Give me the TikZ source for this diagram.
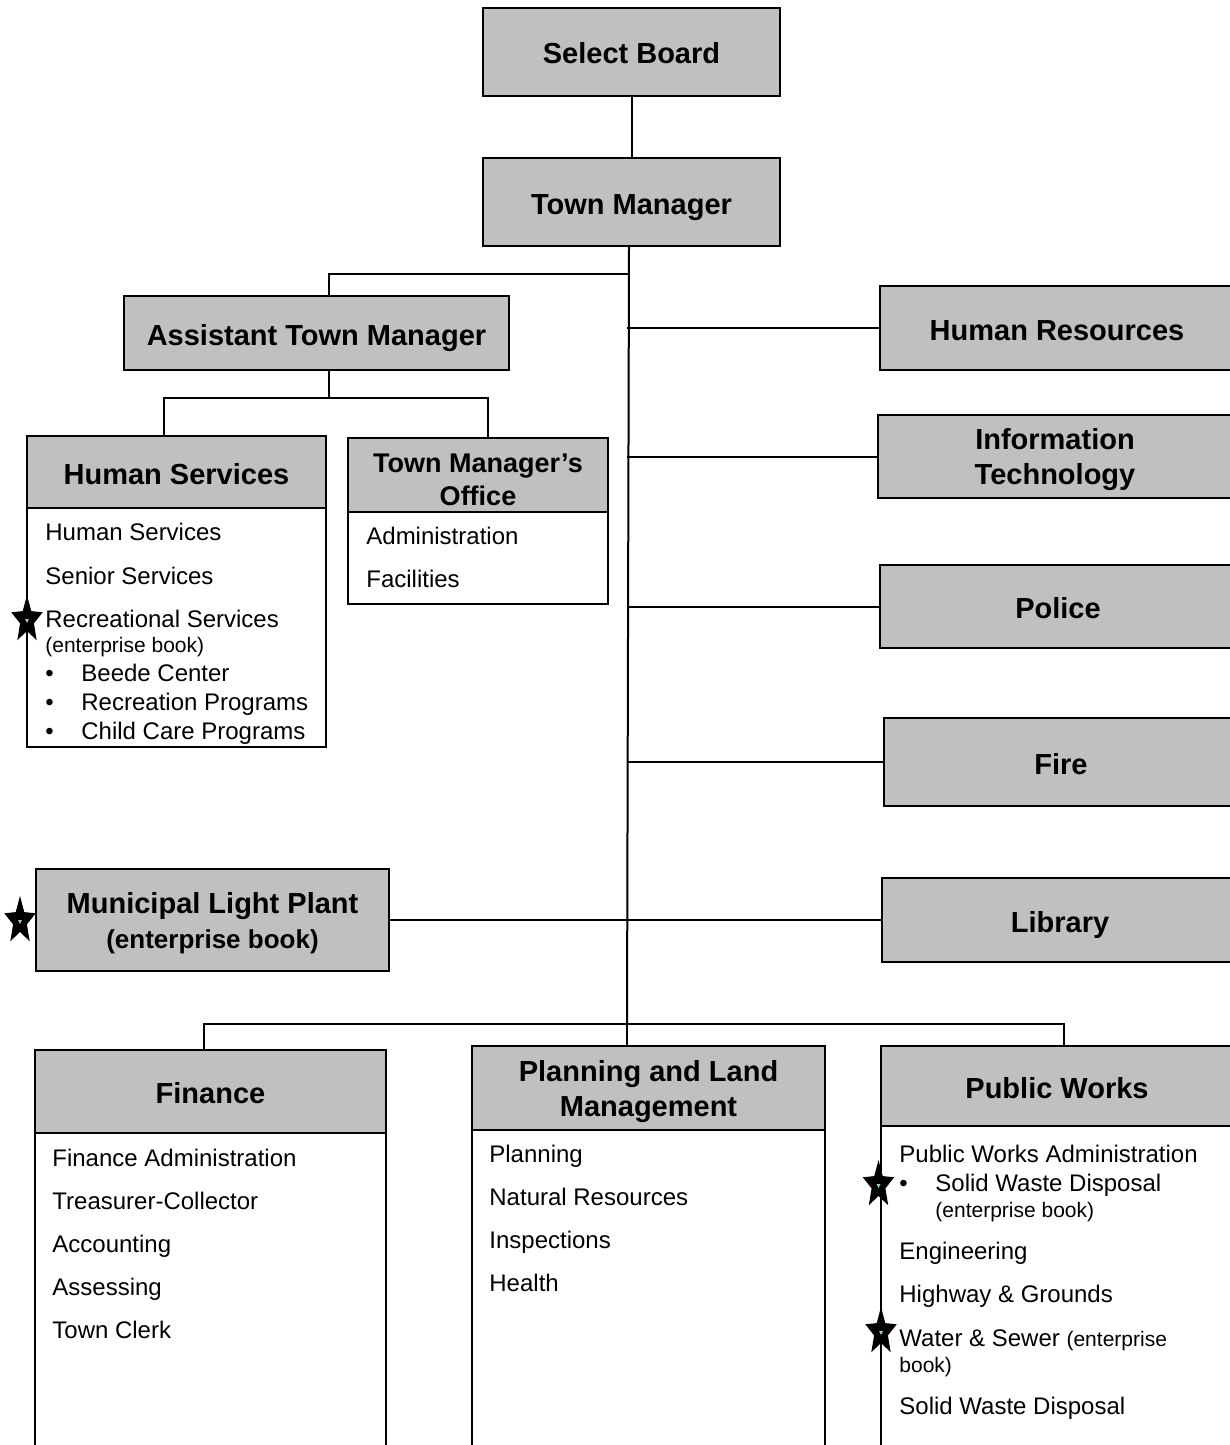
\documentclass[tikz,border=0pt]{standalone}
\usepackage{fontspec}
\setmainfont{Liberation Sans}
\usepackage{tikz}
\usetikzlibrary{
    calc,
    positioning
}
\definecolor{boxgray}{RGB}{192,192,192}
\definecolor{markcyan}{RGB}{150,205,215}
\newcommand{\headsize}{\fontsize{14.5}{17.5}\selectfont\bfseries}
\newcommand{\itemsize}{\fontsize{12}{14}\selectfont}
\newcommand{\notesize}{\fontsize{10.5}{12.5}\selectfont}
\newcommand{\toprule}{\rule{0pt}{14pt}}
% star that marks an enterprise book
\newcommand{\bookstar}[1]{%
    \begin{scope}[shift={#1}, xscale=0.66]
        \fill[black] (-90:25) \foreach \k in {0,...,4}{ -- ({-54+72*\k}:11) -- ({-18+72*\k}:25) } -- cycle;
        \fill[markcyan] (-3,-1) -- (3,-1) -- (0,3) -- cycle;
    \end{scope}}
\tikzset{
    unit/.style={draw, fill=boxgray, line width=1pt, inner sep=0pt, align=center, font=\headsize},
    oneline/.style={unit, text height=12pt, text depth=0pt},
    sheet/.style={draw, line width=1pt, inner sep=0pt},
    item/.style={inner sep=0pt, anchor=base west, font=\itemsize},
    note/.style={item, font=\notesize},
    link/.style={line width=1pt}
}

\begin{document}
\begin{tikzpicture}[x=0.5pt, y=-0.5pt]
        \useasboundingbox (0,0) rectangle (1230,1445);
        \clip (0,0) rectangle (1230,1445);

        % top of the chart
        \draw (631.5,52)  node[oneline, minimum width=148.5pt, minimum height=44pt](board){Select Board};
        \draw (631.5,202) node[oneline, minimum width=148.5pt, minimum height=44pt](tm){Town Manager};
        \draw (316.5,333) node[oneline, minimum width=192.5pt, minimum height=37pt](atm){Assistant Town Manager};

        % departments on the right
        \draw (1057,328)   node[oneline, minimum width=177pt, minimum height=42pt](hr){Human Resources};
        \draw (1055,456.5) node[unit, minimum width=177pt, minimum height=41.5pt](it){\toprule Information\\Technology};
        \draw (1058,606.5) node[oneline, minimum width=178pt, minimum height=41.5pt](police){Police};
        \draw (1061,762)   node[oneline, minimum width=177pt, minimum height=44pt](fire){Fire};
        \draw (1060,920)   node[oneline, minimum width=178pt, minimum height=42pt](lib){Library};
        \draw (212.5,920)  node[unit, minimum width=176.5pt, minimum height=51pt](mlp){\toprule Municipal Light Plant\\{\fontsize{13}{15}\selectfont (enterprise book)}};

        % Human Services
        \draw (176.5,627.5) node[sheet, minimum width=149.5pt, minimum height=119.5pt](hsbody){};
        \draw (176.5,472)   node[oneline, minimum width=149.5pt, minimum height=36pt](hs){Human Services};
        \draw (45,540) node[item](hs1){Human Services};
        \draw (45,584) node[item](hs2){Senior Services};
        \draw (45,627) node[item](hs3){Recreational Services};
        \draw (45,652) node[note](hs3n){(enterprise book)};
        \draw (45,681) node[item](hsb1){\textbullet};
        \draw (81,681) node[item](hs4){Beede Center};
        \draw (45,710) node[item](hsb2){\textbullet};
        \draw (81,710) node[item](hs5){Recreation Programs};
        \draw (45,739) node[item](hsb3){\textbullet};
        \draw (81,739) node[item](hs6){Child Care Programs};

        % Town Manager's Office
        \draw (478,558) node[sheet, minimum width=130pt, minimum height=46pt](tmobody){};
        \draw (478,475) node[unit, minimum width=130pt, minimum height=37pt,
            font=\fontsize{13.5}{16.5}\selectfont\bfseries](tmo){\toprule Town Manager's\\Office};
        \draw (366,544) node[item](tmo1){Administration};
        \draw (366,587) node[item](tmo2){Facilities};

        % Finance
        \draw (210.5,1315)  node[sheet, minimum width=175.5pt, minimum height=185pt](finbody){};
        \draw (210.5,1091.5) node[oneline, minimum width=175.5pt, minimum height=41.5pt](fin){Finance};
        \draw (52,1166) node[item](fin1){Finance Administration};
        \draw (52,1209) node[item](fin2){Treasurer-Collector};
        \draw (52,1252) node[item](fin3){Accounting};
        \draw (52,1295) node[item](fin4){Assessing};
        \draw (52,1338) node[item](fin5){Town Clerk};

        % Planning and Land Management
        \draw (648.5,1315) node[sheet, minimum width=176.5pt, minimum height=185pt](plmbody){};
        \draw (648.5,1088) node[unit, minimum width=176.5pt, minimum height=42pt](plm){\toprule Planning and Land\\Management};
        \draw (489,1162) node[item](plm1){Planning};
        \draw (489,1205) node[item](plm2){Natural Resources};
        \draw (489,1248) node[item](plm3){Inspections};
        \draw (489,1291) node[item](plm4){Health};

        % Public Works
        \draw (1057,1313) node[sheet, minimum width=176pt, minimum height=187pt](pwbody){};
        \draw (1057,1086) node[oneline, minimum width=176pt, minimum height=40pt](pw){Public Works};
        \draw (899,1162) node[item](pw1){Public Works Administration};
        \draw (899,1191) node[item](pwb1){\textbullet};
        \draw (935,1191) node[item](pw2){Solid Waste Disposal};
        \draw (935,1217) node[note](pw2n){(enterprise book)};
        \draw (899,1259) node[item](pw3){Engineering};
        \draw (899,1302) node[item](pw4){Highway \& Grounds};
        \draw (899,1346) node[item](pw5){Water \& Sewer {\notesize (enterprise}};
        \draw (899,1372) node[note](pw5n){book)};
        \draw (899,1414) node[item](pw6){Solid Waste Disposal};

        % connectors
        \coordinate (hub) at (627,1024);
        \coordinate (spine) at (629,274);
        \coordinate (fork) at (329,398);
        \draw[link] (board) -- (tm);
        \draw[link] ([xshift=-1.25pt]tm.south) -- (hub);
        \draw[link] ([xshift=6.25pt]atm.north) |- (spine);
        \draw[link] ([xshift=6.25pt]atm.south) -- (fork);
        \draw[link] ([xshift=-6.25pt]hs.north) |- (fork) -| ([xshift=5pt]tmo.north);
        \draw[link] (hr.west) -- (hr.west -| hub);
        \draw[link] (it.west) -- (it.west -| hub);
        \draw[link] (police.west) -- (police.west -| hub);
        \draw[link] (fire.west) -- (fire.west -| hub);
        \draw[link] (mlp.east) -- (lib.west);
        \draw[link] ([xshift=-3.25pt]fin.north) |- (hub) -| ([xshift=3.5pt]pw.north);
        \draw[link] (hub) -- (hub |- plm.north);

        % enterprise stars
        \bookstar{(27,620)}
        \bookstar{(20,921)}
        \bookstar{(878.5,1185)}
        \bookstar{(881,1332)}
    \end{tikzpicture}
\end{document}
